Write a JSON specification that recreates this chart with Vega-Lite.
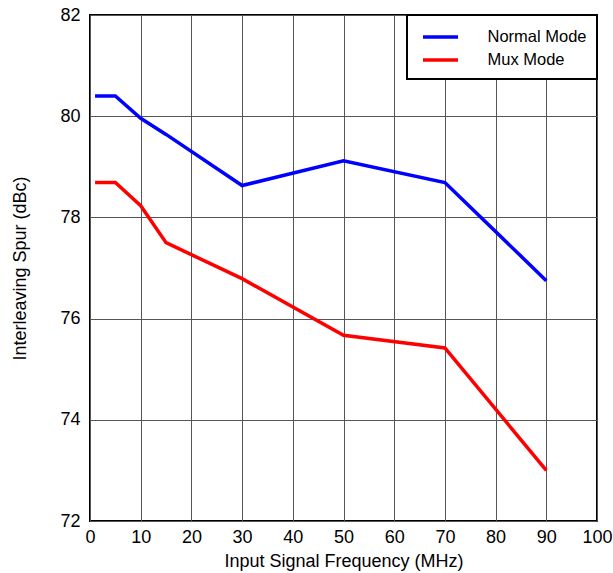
{
  "$schema": "https://vega.github.io/schema/vega-lite/v6.json",
  "width": 507,
  "height": 506,
  "autosize": {"type": "none"},
  "padding": {"left": 90, "top": 15, "right": 16, "bottom": 52},
  "background": "white",
  "config": {
    "font": "Liberation Sans",
    "view": {"stroke": "black", "strokeWidth": 2},
    "legend": {"strokeWidth": 2},
    "axis": {
      "domain": false,
      "ticks": false,
      "grid": true,
      "gridColor": "#555555",
      "gridWidth": 1,
      "gridOpacity": 1,
      "labelFont": "Liberation Sans",
      "labelFontSize": 18,
      "labelColor": "black",
      "titleFont": "Liberation Sans",
      "titleFontSize": 18,
      "titleFontWeight": "normal",
      "titleColor": "black"
    }
  },
  "data": {
    "values": [
      {"f": 1, "v": 80.4, "mode": "Normal Mode"},
      {"f": 5, "v": 80.4, "mode": "Normal Mode"},
      {"f": 10, "v": 79.96, "mode": "Normal Mode"},
      {"f": 15, "v": 79.64, "mode": "Normal Mode"},
      {"f": 30, "v": 78.63, "mode": "Normal Mode"},
      {"f": 50, "v": 79.12, "mode": "Normal Mode"},
      {"f": 70, "v": 78.69, "mode": "Normal Mode"},
      {"f": 90, "v": 76.75, "mode": "Normal Mode"},
      {"f": 1, "v": 78.69, "mode": "Mux Mode"},
      {"f": 5, "v": 78.69, "mode": "Mux Mode"},
      {"f": 10, "v": 78.23, "mode": "Mux Mode"},
      {"f": 15, "v": 77.5, "mode": "Mux Mode"},
      {"f": 30, "v": 76.79, "mode": "Mux Mode"},
      {"f": 50, "v": 75.67, "mode": "Mux Mode"},
      {"f": 70, "v": 75.42, "mode": "Mux Mode"},
      {"f": 90, "v": 73.0, "mode": "Mux Mode"}
    ]
  },
  "mark": {"type": "line", "strokeWidth": 3.5, "strokeJoin": "miter"},
  "encoding": {
    "x": {
      "field": "f",
      "type": "quantitative",
      "scale": {"domain": [0, 100], "nice": false},
      "axis": {"values": [0, 10, 20, 30, 40, 50, 60, 70, 80, 90, 100], "title": "Input Signal Frequency (MHz)", "labelPadding": 7, "titlePadding": 6, "labelFlush": false}
    },
    "y": {
      "field": "v",
      "type": "quantitative",
      "scale": {"domain": [72, 82], "nice": false, "zero": false},
      "axis": {"values": [72, 74, 76, 78, 80, 82], "title": "Interleaving Spur (dBc)", "labelPadding": 10, "titlePadding": 30, "labelFlush": false}
    },
    "color": {
      "field": "mode",
      "type": "nominal",
      "scale": {"domain": ["Normal Mode", "Mux Mode"], "range": ["#0000ff", "#ff0000"]},
      "legend": {
        "title": null,
        "orient": "top-right",
        "offset": 0,
        "padding": 10,
        "fillColor": "white",
        "strokeColor": "black",
        "symbolType": "M-1.75,0H1.75",
        "symbolSize": 400,
        "symbolStrokeWidth": 3.5,
        "symbolOffset": 11.5,
        "labelFontSize": 16.5,
        "labelFont": "Liberation Sans",
        "labelColor": "black",
        "labelOffset": 35,
        "rowPadding": 2
      }
    }
  }
}
